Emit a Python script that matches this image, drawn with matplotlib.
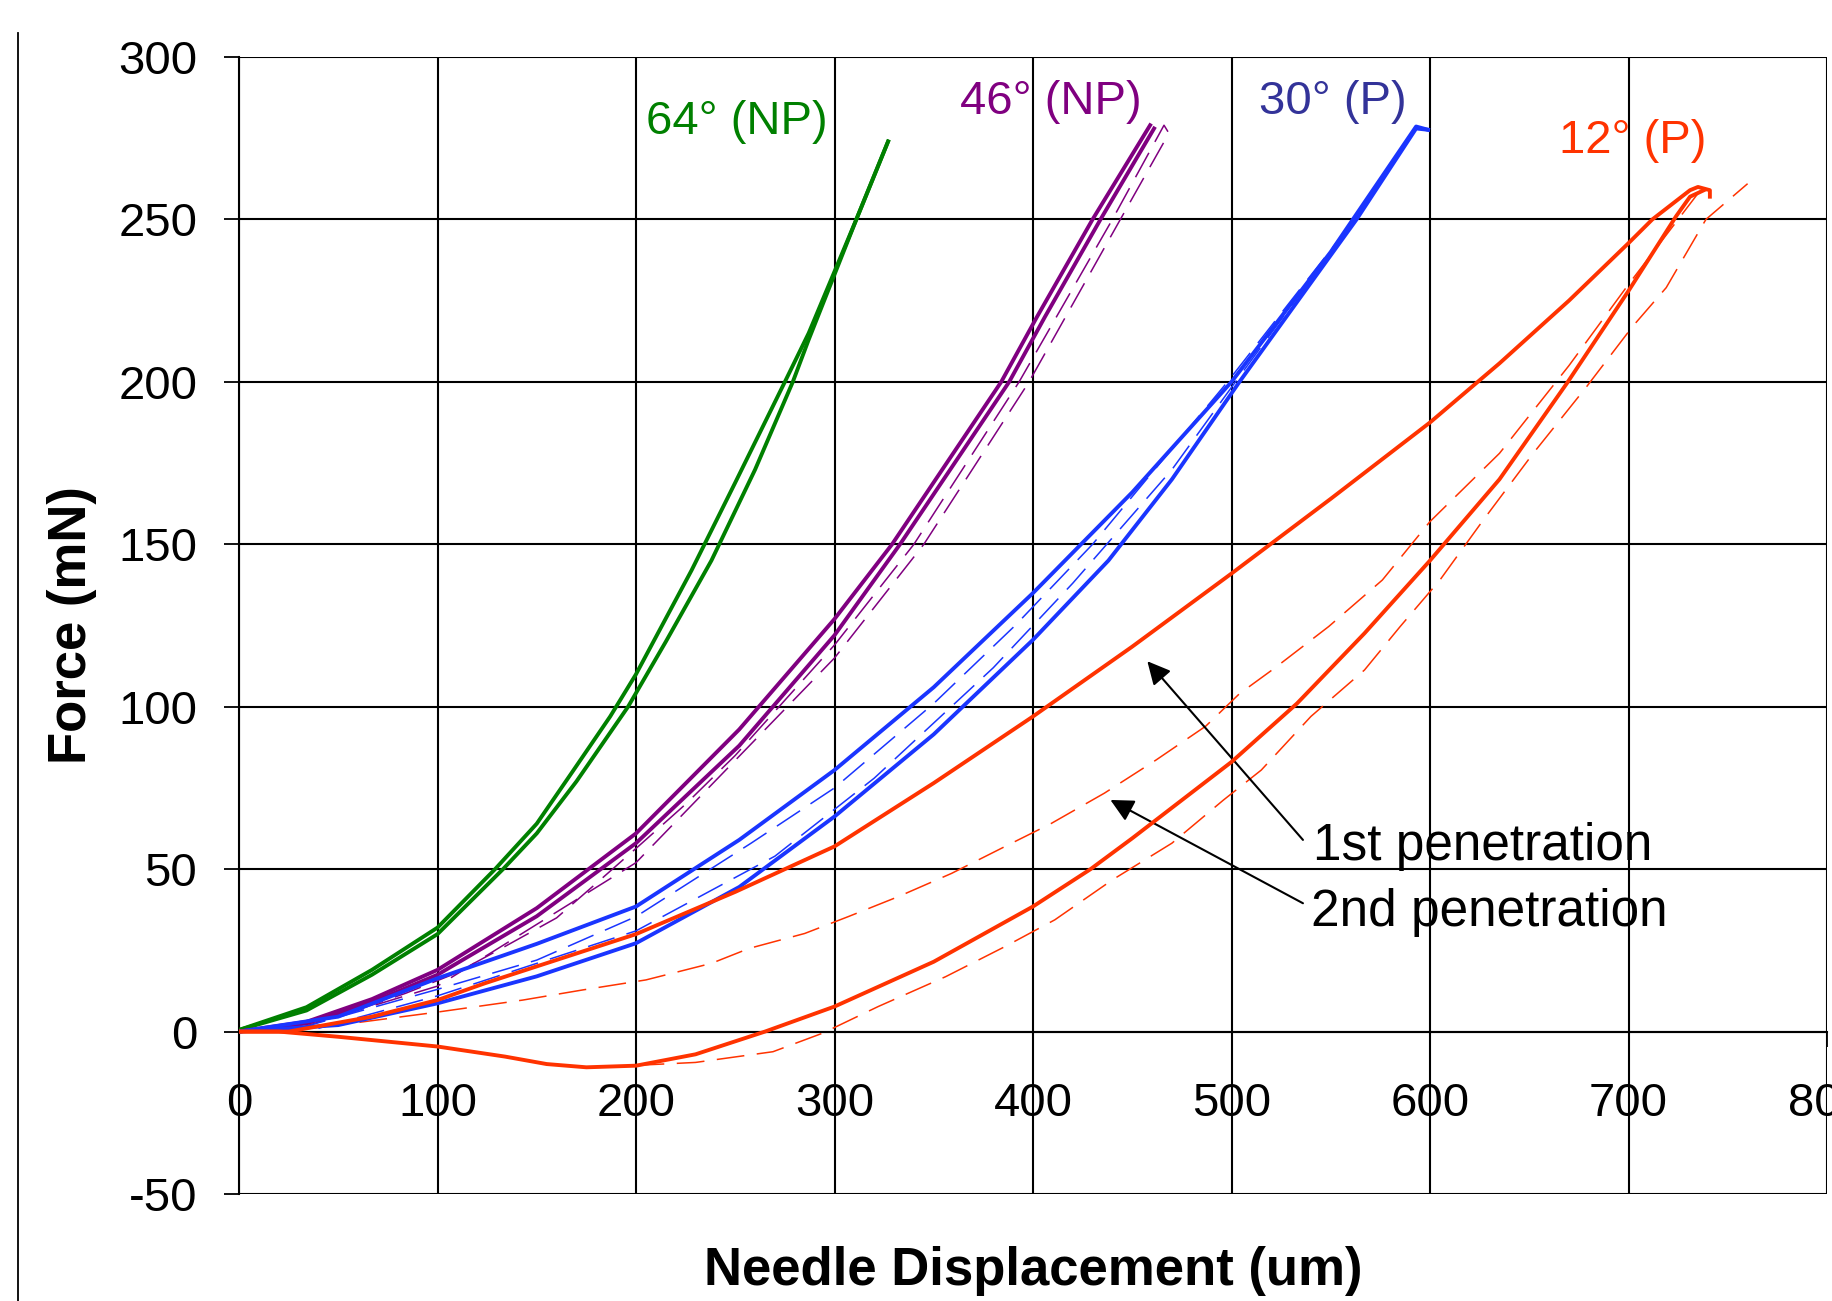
import matplotlib
matplotlib.use("Agg")
import matplotlib.pyplot as plt
from matplotlib.lines import Line2D

plt.rcParams["font.family"] = ["Liberation Sans", "DejaVu Sans"]
plt.rcParams["lines.scale_dashes"] = False
plt.rcParams["axes.unicode_minus"] = False

# ---------------------------------------------------------------------------
# Data (needle displacement in um, force in mN)
# ---------------------------------------------------------------------------
# 64 deg (NP) - two 1st-penetration runs
green_1_x = [0, 34, 67, 100, 129, 150, 168, 187, 200, 228, 250, 275, 287, 311, 327]
green_1_y = [0.5, 7.5, 19, 32, 50, 64, 80, 97, 110, 142, 169, 200, 215, 250, 274]
green_2_x = [0, 34, 67, 100, 133, 150, 170, 196, 215, 238, 260, 279, 287, 311, 327]
green_2_y = [0.5, 6.5, 17.5, 30, 50, 61, 77, 100, 120, 145, 173, 200, 213, 250, 274]

# 46 deg (NP)
purple_1_x = [0, 34, 67, 100, 150, 200, 252, 300, 329, 384, 402, 430, 459]
purple_1_y = [0, 3, 10, 19, 38, 61, 93, 127, 150, 200, 220, 250, 279]
purple_2_x = [0, 34, 67, 100, 150, 200, 252, 300, 333, 388, 406, 434, 461]
purple_2_y = [0, 2.5, 9, 17.5, 35.5, 58, 88, 122, 150, 200, 220, 250, 278]
purple_2nd_1_x = [20, 50, 84, 109, 134, 160, 182, 203, 225, 250, 300, 340, 393, 440, 466, 468]
purple_2nd_1_y = [0.5, 4.6, 11.8, 17.9, 26.2, 35, 46.7, 58, 70, 85, 119, 150, 200, 250, 279, 277]
purple_2nd_2_x = [30, 100, 200, 300, 345, 398, 444, 468]
purple_2nd_2_y = [1, 14, 52, 115, 150, 200, 250, 276]

# 30 deg (P)
blue_1_x = [0, 50, 100, 150, 200, 252, 300, 350, 400, 450, 500, 550, 593, 599]
blue_1_y = [0, 4.6, 16.4, 27, 38.5, 59, 80.5, 106, 135, 166, 200, 240, 278.6, 277.6]
blue_2_x = [0, 50, 100, 150, 200, 252, 300, 350, 400, 438, 470, 504, 563, 593, 599]
blue_2_y = [0, 2, 8.7, 17, 27.2, 44.5, 66.2, 91.5, 120.6, 145, 170, 200, 250, 278, 277.6]
blue_2nd_1_x = [30, 100, 150, 200, 258, 300, 350, 391, 430, 498, 562, 590]
blue_2nd_1_y = [1, 13, 22, 35.4, 58, 75, 101, 125, 150, 200, 250, 276]
blue_2nd_2_x = [40, 100, 200, 270, 320, 380, 420, 470, 502, 562, 591]
blue_2nd_2_y = [1, 11, 31, 54, 78, 112, 138, 173, 200, 250, 277]

# 12 deg (P)
red_1_x = [0, 25, 67, 100, 124, 200, 250, 300, 350, 400, 450, 500, 550, 600,
           635, 670, 700, 712, 731, 735, 741, 741]
red_1_y = [0, 0, 4.6, 9.7, 14.9, 30, 43, 57, 76.5, 97, 118.5, 141, 164, 187.5,
           205.7, 225, 242.7, 250, 259, 260, 259, 257]
red_2_x = [0, 20, 50, 100, 134, 155, 175, 200, 230, 252, 265, 300, 350, 400, 429,
           450, 500, 533, 567, 600, 635, 669, 700, 724, 731, 738]
red_2_y = [0, 0, -1.6, -4.6, -7.7, -10, -11, -10.5, -7, -2.6, 0, 7.7, 21.5, 38.5, 50,
           59.5, 83, 101, 122.6, 145, 170, 199.6, 228, 251, 257, 259]
red_2nd_1_x = [0, 50, 100, 143, 173, 205, 238, 257, 285, 307, 332, 359, 386, 409, 436,
               462, 487, 504, 522, 549, 576, 600, 635, 670, 700, 720, 735]
red_2nd_1_y = [0, 2, 6, 9.7, 12.8, 15.9, 21, 25.6, 30.2, 35.4, 41.5, 48.7, 57, 64, 73.4,
               83.6, 94, 104, 112, 124.7, 139, 157, 178, 205, 230, 246, 258]
red_2nd_2_x = [180, 230, 269, 294, 322, 356, 386, 411, 440, 470, 496, 515, 540, 567,
               585, 605, 627, 652, 679, 702, 719, 739, 760]
red_2nd_2_y = [-11, -9.5, -6.2, -0.5, 7.7, 16.9, 26.2, 34.4, 46.7, 58, 71.3, 80.5, 97,
               111.3, 124.7, 139, 157.6, 178, 198.6, 217, 229, 250, 261]

x_ticks = [0, 100, 200, 300, 400, 500, 600, 700, 800]
y_ticks = [-50, 0, 50, 100, 150, 200, 250, 300]

GREEN, PURPLE, BLUE, RED = "#008000", "#800080", "#1a35ff", "#ff3300"
SOLID_LW, DASH_LW, DASHES = 2.8, 1.1, (20, 9)

# ---------------------------------------------------------------------------
# Figure
# ---------------------------------------------------------------------------
fig = plt.figure(figsize=(18.32, 13.01), dpi=100)
ax = fig.add_axes([239 / 1832, 1 - 1194 / 1301, (1827 - 239) / 1832, (1194 - 57) / 1301])

solid_series = [
    (green_1_x, green_1_y, GREEN), (green_2_x, green_2_y, GREEN),
    (purple_1_x, purple_1_y, PURPLE), (purple_2_x, purple_2_y, PURPLE),
    (blue_1_x, blue_1_y, BLUE), (blue_2_x, blue_2_y, BLUE),
    (red_1_x, red_1_y, RED), (red_2_x, red_2_y, RED),
]
dashed_series = [
    (purple_2nd_1_x, purple_2nd_1_y, PURPLE), (purple_2nd_2_x, purple_2nd_2_y, PURPLE),
    (blue_2nd_1_x, blue_2nd_1_y, BLUE), (blue_2nd_2_x, blue_2nd_2_y, BLUE),
    (red_2nd_1_x, red_2nd_1_y, RED), (red_2nd_2_x, red_2nd_2_y, RED),
]
for xs, ys, c in dashed_series:
    ax.plot(xs, ys, color=c, lw=DASH_LW, dashes=DASHES, zorder=3)
for xs, ys, c in solid_series:
    ax.plot(xs, ys, color=c, lw=SOLID_LW, zorder=4, solid_joinstyle="round")

ax.set_xlim(0, 800)
ax.set_ylim(-50, 300)
ax.set_xticks(x_ticks)
ax.set_yticks(y_ticks)
ax.grid(True, color="black", lw=1.5)
ax.set_axisbelow(True)

ax.spines["bottom"].set_position(("data", 0))
for s in ("top", "right"):
    ax.spines[s].set_visible(False)
for s in ("left", "bottom"):
    ax.spines[s].set_color("black")
    ax.spines[s].set_linewidth(1.5)
ax.tick_params(direction="out", length=11, width=1.3, labelsize=34, pad=19)
ax.tick_params(axis="x", pad=25)

# curve labels
label_kw = dict(fontsize=34, ha="left", va="center")
ax.text(205, 280, "64° (NP)", color=GREEN, **label_kw)
ax.text(363, 286, "46° (NP)", color=PURPLE, **label_kw)
ax.text(514, 286, "30° (P)", color="#333399", **label_kw)
ax.text(665, 274, "12° (P)", color=RED, **label_kw)

ax.text(541, 57, "1st penetration", fontsize=37, ha="left", va="center")
ax.text(540, 36.5, "2nd penetration", fontsize=37, ha="left", va="center")
arrow = dict(arrowstyle="-|>", color="black", lw=1.5, mutation_scale=35, shrinkA=0, shrinkB=0)
ax.annotate("", xy=(457.6, 114), xytext=(536, 59), arrowprops=arrow)
ax.annotate("", xy=(439, 71.3), xytext=(536, 39.5), arrowprops=arrow)

fig.text(1033 / 1832, 1 - 1271 / 1301, "Needle Displacement (um)", fontsize=38,
         fontweight="bold", ha="center", va="center")
fig.text(72 / 1832, 1 - 625 / 1301, "Force (mN)", fontsize=38, fontweight="bold",
         rotation=90, ha="center", va="center")

# thin frame line at the left edge
fig.add_artist(Line2D([18 / 1832, 18 / 1832], [0, 1 - 33 / 1301], color="black", lw=1.3))

fig.savefig("out.png", dpi=100)
